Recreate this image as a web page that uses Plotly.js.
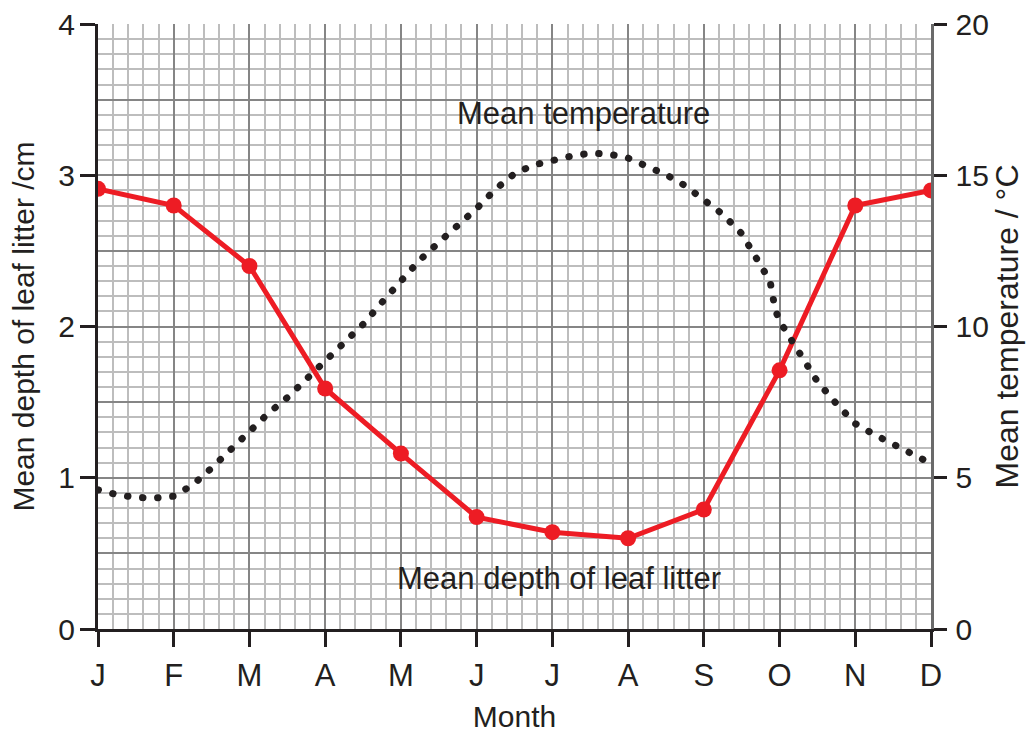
<!DOCTYPE html>
<html>
<head>
<meta charset="utf-8">
<script src="https://cdn.plot.ly/plotly-3.0.1.min.js"></script>
<style>
  html, body { margin: 0; padding: 0; background: #fff; }
  #chart { width: 1036px; height: 733px; }
</style>
</head>
<body>
<div id="chart"></div>
<script>
// ---- data ----
const monthLabels = ['J','F','M','A','M','J','J','A','S','O','N','D'];
const monthIndex = [0,1,2,3,4,5,6,7,8,9,10,11];
const litterDepth = [2.91, 2.80, 2.40, 1.59, 1.16, 0.74, 0.64, 0.60, 0.79, 1.71, 2.80, 2.90];

const tempMonth = [0,0.25,0.5,0.75,1,1.25,1.5,1.75,2,2.25,2.5,2.75,3,3.25,3.5,3.75,4,4.25,4.5,4.75,
                   5,5.25,5.5,5.75,6,6.25,6.5,6.75,7,7.25,7.5,7.75,8,8.25,8.5,8.75,8.875,8.91,8.95,9.02,
                   9.25,9.5,9.75,10,10.25,10.5,10.75,11];
const tempValue = [4.60,4.44,4.35,4.33,4.39,4.76,5.32,5.94,6.57,7.13,7.65,8.24,8.83,9.43,10.07,10.80,11.52,12.20,12.78,13.32,
                   13.90,14.54,15.05,15.34,15.50,15.63,15.73,15.70,15.57,15.31,15.02,14.66,14.20,13.71,13.07,12.07,11.50,11.00,10.50,10.10,
                   9.14,8.18,7.45,6.79,6.43,6.10,5.78,5.47];

const leftTicks = [0,1,2,3,4];
const rightTicks = [0,5,10,15,20];

// grid positions (graph-paper style)
function steps(from, to, step) {
  const out = [];
  const n = Math.round((to - from) / step);
  for (let i = 0; i <= n; i++) out.push(+(from + i * step).toFixed(4));
  return out;
}
const xMinorGrid = steps(0, 11, 0.2);
const yMinorGrid = steps(0, 4, 0.1);
const yMajorGrid = steps(0, 4, 0.5);

// ---- styles ----
const FONT = 'Liberation Sans, Arial, Helvetica, sans-serif';
const INK = '#231f20';
const RED = '#ed1c24';
const MAJOR = '#858585';
const MINOR = '#bdbdbd';

const traces = [
  // empty helper traces so that the grid / label axes exist
  {x: [], y: [], xaxis: 'x2', yaxis: 'y', type: 'scatter', hoverinfo: 'skip'},
  {x: [], y: [], xaxis: 'x', yaxis: 'y3', type: 'scatter', hoverinfo: 'skip'},
  {x: [], y: [], xaxis: 'x', yaxis: 'y4', type: 'scatter', hoverinfo: 'skip'},
  {
    x: tempMonth, y: tempValue, xaxis: 'x', yaxis: 'y2', type: 'scatter', mode: 'lines',
    line: {color: INK, width: 7, dash: '0.5px,14.6px'},
    hoverinfo: 'skip', name: 'Mean temperature'
  },
  {
    x: monthIndex, y: litterDepth, xaxis: 'x', yaxis: 'y', type: 'scatter', mode: 'lines+markers',
    line: {color: RED, width: 5},
    marker: {color: RED, size: 16},
    name: 'Mean depth of leaf litter'
  }
];

const layout = {
  width: 1036, height: 733,
  margin: {l: 98, r: 105, t: 24, b: 104},
  paper_bgcolor: '#fff', plot_bgcolor: '#fff',
  showlegend: false,
  font: {family: FONT, color: INK, size: 30},
  // light vertical grid (every 0.2 month)
  xaxis: {
    range: [0, 11], tickmode: 'array', tickvals: xMinorGrid,
    showgrid: true, gridcolor: MINOR, gridwidth: 2,
    showticklabels: false, ticks: '', showline: false, zeroline: false,
    fixedrange: true
  },
  // month axis: labels, ticks, dark vertical grid
  xaxis2: {
    overlaying: 'x', anchor: 'y', side: 'bottom', range: [0, 11],
    tickmode: 'array', tickvals: monthIndex, ticktext: monthLabels,
    showgrid: true, gridcolor: MAJOR, gridwidth: 2,
    showline: true, linecolor: INK, linewidth: 3,
    ticks: 'outside', ticklen: 15, tickwidth: 3, tickcolor: INK,
    tickfont: {size: 31, family: FONT, color: INK},
    ticklabelstandoff: 2,
    zeroline: false,
    title: {text: 'Month', font: {size: 30, family: FONT, color: INK}, standoff: 18},
    fixedrange: true
  },
  // light horizontal grid (every 0.1 cm)
  yaxis: {
    range: [0, 4], tickmode: 'array', tickvals: yMinorGrid,
    showgrid: true, gridcolor: MINOR, gridwidth: 2,
    showticklabels: false, ticks: '', showline: false, zeroline: false,
    fixedrange: true
  },
  // dark horizontal grid (every 0.5 cm)
  yaxis4: {
    overlaying: 'y', anchor: 'x', range: [0, 4], tickmode: 'array', tickvals: yMajorGrid,
    showgrid: true, gridcolor: MAJOR, gridwidth: 2,
    showticklabels: false, ticks: '', showline: false, zeroline: false,
    fixedrange: true
  },
  // left axis with labels
  yaxis3: {
    overlaying: 'y', anchor: 'x', side: 'left', range: [0, 4], tickmode: 'array', tickvals: leftTicks,
    showgrid: false, zeroline: false,
    showline: true, linecolor: INK, linewidth: 3,
    ticks: 'outside', ticklen: 15, tickwidth: 3, tickcolor: INK,
    tickfont: {size: 30, family: FONT, color: INK},
    ticklabelstandoff: -1,
    title: {text: 'Mean depth of leaf litter /cm', font: {size: 30, family: FONT, color: INK}, standoff: 15},
    fixedrange: true
  },
  yaxis2: {
    overlaying: 'y', anchor: 'x', side: 'right', range: [0, 20], tickmode: 'array', tickvals: rightTicks,
    showgrid: false, zeroline: false,
    showline: true, linecolor: '#6a6a6a', linewidth: 2.5,
    ticks: 'outside', ticklen: 13, tickwidth: 3, tickcolor: INK,
    tickfont: {size: 30, family: FONT, color: INK},
    ticklabelstandoff: 3,
    title: {text: 'Mean temperature / °C', font: {size: 32, family: FONT, color: INK}, standoff: 6},
    fixedrange: true
  },
  annotations: [
    {x: 6.41, y: 3.41, xref: 'x', yref: 'y', text: 'Mean temperature', showarrow: false,
     font: {size: 31, family: FONT, color: INK}, xanchor: 'center', yanchor: 'middle'},
    {x: 6.09, y: 0.337, xref: 'x', yref: 'y', text: 'Mean depth of leaf litter', showarrow: false,
     font: {size: 31, family: FONT, color: INK}, xanchor: 'center', yanchor: 'middle'}
  ]
};

Plotly.newPlot('chart', traces, layout, {displayModeBar: false, staticPlot: true}).then(function (gd) {
  gd.querySelectorAll('.scatterlayer .trace path.js-line').forEach(function (p) {
    if ((p.style.strokeDasharray || p.getAttribute('style') || '').indexOf('14.6') >= 0) {
      p.style.strokeLinecap = 'round';
    }
  });
});
</script>
</body>
</html>
